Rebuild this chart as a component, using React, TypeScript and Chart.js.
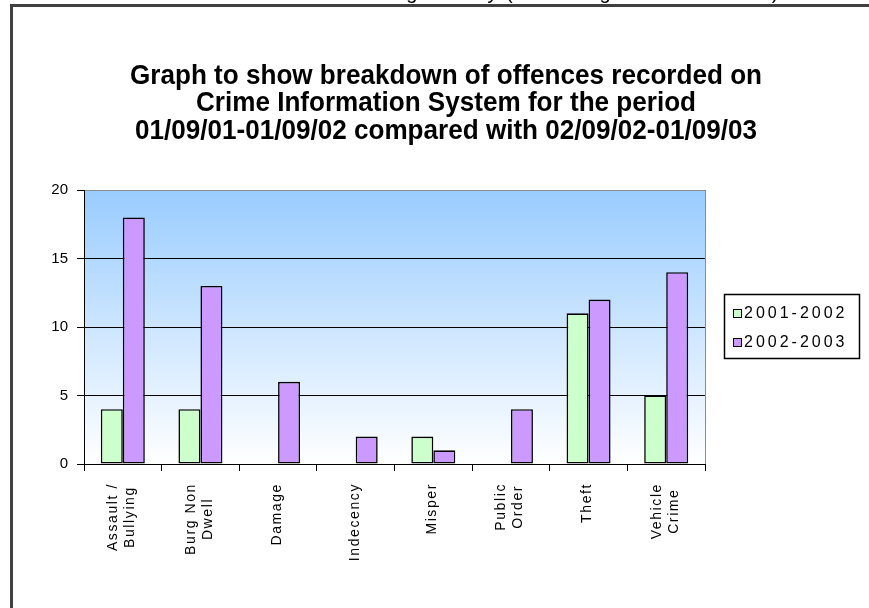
import { useEffect, useRef } from "react";
import { Chart, registerables } from "chart.js";

Chart.register(...registerables);

// Offence categories (multi-line axis labels)
const categories: string[][] = [
  ["Assault /", "Bullying"],
  ["Burg Non", "Dwell"],
  ["Damage"],
  ["Indecency"],
  ["Misper"],
  ["Public", "Order"],
  ["Theft"],
  ["Vehicle", "Crime"],
];

// Offences recorded per period
const series2001 = [4, 4, 0, 0, 2, 0, 11, 5];
const series2002 = [18, 13, 6, 2, 1, 4, 12, 14];
const seriesNames = ["2001-2002", "2002-2003"];
const seriesColors = ["#ccffcc", "#cc99ff"];

const yTicks = [0, 5, 10, 15, 20];

const titleLines = [
  "Graph to show breakdown of offences recorded on",
  "Crime Information System for the period",
  "01/09/01-01/09/02 compared with 02/09/02-01/09/03",
];

const headerText = "Recording activity (excluding other incidents)";

const FONT = "'Liberation Sans', Arial, sans-serif";

const decor = {
  id: "decor",
  beforeDraw(chart: any) {
    const { ctx, chartArea: a, width, height } = chart;
    ctx.save();
    ctx.fillStyle = "#ffffff";
    ctx.fillRect(0, 0, width, height);
    const g = ctx.createLinearGradient(0, a.top, 0, a.bottom);
    g.addColorStop(0, "#99ccff");
    g.addColorStop(1, "#ffffff");
    ctx.fillStyle = g;
    ctx.fillRect(a.left, a.top, a.right - a.left, a.bottom - a.top);
    ctx.restore();
  },
  afterDraw(chart: any) {
    const { ctx, chartArea: a } = chart;
    ctx.save();

    // plot-area right edge
    ctx.strokeStyle = "#8c8c8c";
    ctx.lineWidth = 1;
    ctx.beginPath();
    ctx.moveTo(Math.round(a.right) + 0.5, a.top);
    ctx.lineTo(Math.round(a.right) + 0.5, a.bottom);
    ctx.stroke();

    // header line clipped by the page edge
    ctx.fillStyle = "#000";
    ctx.font = `20px ${FONT}`;
    (ctx as any).letterSpacing = "1.5px";
    ctx.textAlign = "right";
    ctx.textBaseline = "alphabetic";
    ctx.fillText(headerText, 780, -1.5);

    // outer frame
    ctx.fillStyle = "#404040";
    ctx.fillRect(10, 4, 3, 620);
    ctx.fillRect(10, 4, 880, 3);

    // title (bold, horizontally condensed)
    ctx.font = `bold 28px ${FONT}`;
    (ctx as any).letterSpacing = "0px";
    ctx.textAlign = "center";
    ctx.textBaseline = "middle";
    ctx.fillStyle = "#000";
    const sx = 632 / ctx.measureText(titleLines[0]).width;
    titleLines.forEach((t, i) => {
      ctx.save();
      ctx.translate(446, 76 + i * 27.5);
      ctx.scale(sx, 1);
      ctx.fillText(t, 0, 0);
      ctx.restore();
    });

    // rotated category labels
    const xs = chart.scales.x;
    ctx.font = `14px ${FONT}`;
    (ctx as any).letterSpacing = "1.6px";
    ctx.textAlign = "center";
    ctx.textBaseline = "middle";
    categories.forEach((lines, i) => {
      const cx = xs.getPixelForTick(i) - 1;
      const maxW = Math.max(...lines.map((l) => ctx.measureText(l).width));
      const cy = a.bottom + 19 + maxW / 2;
      lines.forEach((l, j) => {
        const lx = cx + (j - (lines.length - 1) / 2) * 17;
        ctx.save();
        ctx.translate(lx, cy);
        ctx.rotate(-Math.PI / 2);
        ctx.fillText(l, 0, 0);
        ctx.restore();
      });
    });

    // legend
    ctx.strokeStyle = "#000";
    ctx.lineWidth = 1.5;
    ctx.strokeRect(724.5, 294.5, 135, 64);
    ctx.font = `16px ${FONT}`;
    (ctx as any).letterSpacing = "3px";
    ctx.textAlign = "left";
    ctx.textBaseline = "middle";
    seriesNames.forEach((name, i) => {
      const y = 313 + i * 29;
      ctx.fillStyle = seriesColors[i];
      ctx.fillRect(733, y - 4, 8, 8);
      ctx.lineWidth = 1;
      ctx.strokeRect(733.5, y - 3.5, 8, 8);
      ctx.fillStyle = "#000";
      ctx.fillText(name, 744, y + 1);
    });

    ctx.restore();
  },
};

export default function App() {
  const ref = useRef<HTMLCanvasElement | null>(null);

  useEffect(() => {
    if (!ref.current) return;
    const chart = new Chart(ref.current, {
      type: "bar",
      data: {
        labels: categories,
        datasets: [
          {
            label: seriesNames[0],
            data: series2001,
            backgroundColor: seriesColors[0],
            borderColor: "#000",
            borderWidth: (c: any) => (c.raw === 0 ? 0 : 1.6),
            borderSkipped: false,
          },
          {
            label: seriesNames[1],
            data: series2002,
            backgroundColor: seriesColors[1],
            borderColor: "#000",
            borderWidth: (c: any) => (c.raw === 0 ? 0 : 1.6),
            borderSkipped: false,
          },
        ],
      },
      options: {
        responsive: false,
        animation: false,
        devicePixelRatio: 1,
        layout: { padding: { top: 190, right: 164, left: 0, bottom: 0 } },
        plugins: {
          legend: { display: false },
          title: { display: false },
          tooltip: { enabled: false },
        },
        datasets: { bar: { categoryPercentage: 0.567, barPercentage: 1 } },
        scales: {
          x: {
            grid: {
              offset: true,
              drawOnChartArea: false,
              drawTicks: true,
              tickLength: 7,
              tickColor: "#000",
              lineWidth: 1,
            },
            border: { color: "#000", width: 1 },
            ticks: { display: false },
            afterFit: (s: any) => {
              s.height = 144;
            },
          },
          y: {
            min: 0,
            max: 20,
            afterBuildTicks: (s: any) => {
              s.ticks = yTicks.map((v) => ({ value: v }));
            },
            ticks: {
              color: "#000",
              padding: 9,
              font: { family: FONT, size: 15 },
            },
            grid: {
              color: (c: any) => (c.tick && c.tick.value === 20 ? "#8c8c8c" : "#000"),
              tickColor: "#000",
              tickLength: 7,
              lineWidth: 1,
            },
            border: { color: "#000", width: 1 },
            afterFit: (s: any) => {
              s.width = 84;
            },
          },
        },
      },
      plugins: [decor],
    } as any);
    return () => chart.destroy();
  }, []);

  return (
    <div style={{ position: "fixed", left: 0, top: 0, width: 869, height: 608, overflow: "hidden" }}>
      <canvas ref={ref} width={869} height={608} style={{ display: "block", width: 869, height: 608 }} />
    </div>
  );
}
